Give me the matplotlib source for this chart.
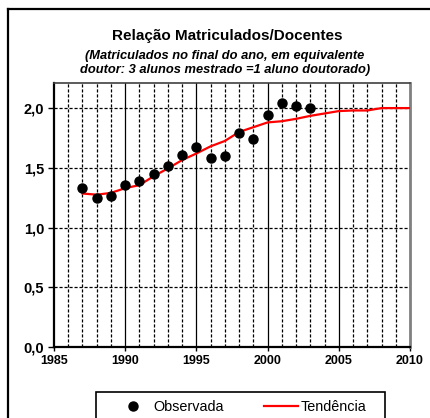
import matplotlib
matplotlib.use("Agg")
import matplotlib.pyplot as plt
from matplotlib.lines import Line2D
from matplotlib.patches import Rectangle
from matplotlib.ticker import FixedLocator

plt.rcParams['font.family'] = ['Liberation Sans', 'DejaVu Sans']

obs_years = [1987, 1988, 1989, 1990, 1991, 1992, 1993, 1994, 1995, 1996, 1997,
             1998, 1999, 2000, 2001, 2002, 2003]
obs_values = [1.33, 1.245, 1.26, 1.36, 1.39, 1.445, 1.515, 1.61, 1.675, 1.58, 1.60,
              1.795, 1.745, 1.94, 2.04, 2.02, 2.00]

trend_years = list(range(1987, 2011))
trend_values = [1.285, 1.275, 1.29, 1.33, 1.355, 1.43, 1.495, 1.565, 1.62, 1.68, 1.725,
                1.80, 1.84, 1.88, 1.89, 1.91, 1.935, 1.955, 1.975, 1.98, 1.98, 2.0, 2.0, 2.0]

y_ticks = [0.0, 0.5, 1.0, 1.5, 2.0]
y_tick_labels = ["0,0", "0,5", "1,0", "1,5", "2,0"]
x_ticks = [1985, 1990, 1995, 2000, 2005, 2010]

title = "Relação Matriculados/Docentes"
subtitle = "(Matriculados no final do ano, em equivalente\ndoutor: 3 alunos mestrado =1 aluno doutorado)"

W, H = 431, 418
fig = plt.figure(figsize=(W / 100, H / 100), dpi=100)
fig.patch.set_facecolor('white')

# outer frame: only top and left edges are visible in the picture
fx = 8.5 / W
fy = 1 - 8.5 / H
fig.add_artist(Line2D([fx, 1.0], [fy, fy], transform=fig.transFigure,
                      color='black', lw=1.6, solid_capstyle='projecting'))
fig.add_artist(Line2D([fx, fx], [0.0, fy], transform=fig.transFigure,
                      color='black', lw=1.6, solid_capstyle='projecting'))

ax = fig.add_axes([54 / W, 1 - 347 / H, (410 - 54) / W, (347 - 83) / H])
ax.set_xlim(1985, 2010)
ax.set_ylim(0, 2.21)

# gridlines
for yr in range(1986, 2010):
    if yr % 5 == 0:
        ax.axvline(yr, color='black', lw=0.9, zorder=1)
    else:
        ax.axvline(yr, color='black', lw=0.9, ls=(0, (2.5, 1.5)), zorder=1)
for yv in y_ticks[1:]:
    ax.axhline(yv, color='black', lw=0.9, ls=(0, (2.5, 1.5)), zorder=1)

ax.plot(trend_years, trend_values, color='#ff0000', lw=1.6, zorder=3, label='Tendência')
ax.plot(obs_years, obs_values, 'o', color='black', ms=6.5, zorder=4, label='Observada')

ax.set_yticks(y_ticks)
ax.set_yticklabels(y_tick_labels)
ax.xaxis.set_major_locator(FixedLocator(x_ticks))
ax.set_xticklabels([str(x) for x in x_ticks])
ax.tick_params(axis='y', direction='out', length=4, width=1, color='black',
               labelsize=10.5, pad=3)
ax.tick_params(axis='x', direction='out', length=3, width=1, color='black',
               labelsize=9, pad=3)
for lbl in ax.get_xticklabels() + ax.get_yticklabels():
    lbl.set_fontweight('bold')

for s in ['left', 'bottom']:
    ax.spines[s].set_color('black')
    ax.spines[s].set_linewidth(1.6)
ax.spines['top'].set_color('#404040')
ax.spines['top'].set_linewidth(1.2)
ax.spines['right'].set_color('#808080')
ax.spines['right'].set_linewidth(2.0)

fig.text(227 / W, 1 - 36 / H, title, ha='center', va='center',
         fontsize=11, fontweight='bold')
fig.text(225 / W, 1 - 63 / H, subtitle, ha='center', va='center',
         fontsize=9.3, fontweight='bold', style='italic', linespacing=1.25)

# legend box (extends past the bottom edge)
fig.add_artist(Rectangle((96 / W, 1 - 423 / H), (385 - 96) / W, 31 / H,
                         transform=fig.transFigure, fill=True, facecolor='white',
                         edgecolor='black', linewidth=1.2, zorder=5))

handles = [Line2D([], [], marker='o', color='black', ls='none', ms=6.5),
           Line2D([], [], color='#ff0000', lw=1.6)]
leg = fig.legend(handles, ['Observada', 'Tendência'], loc='center left',
                 bbox_to_anchor=(116 / W, 1 - 407 / H), ncol=2, frameon=False,
                 fontsize=10.4, handlelength=2.36, columnspacing=2.8,
                 borderpad=0.0, handletextpad=0.2, borderaxespad=0.0)
leg.set_zorder(6)

fig.savefig('out.png', dpi=100, facecolor='white')
